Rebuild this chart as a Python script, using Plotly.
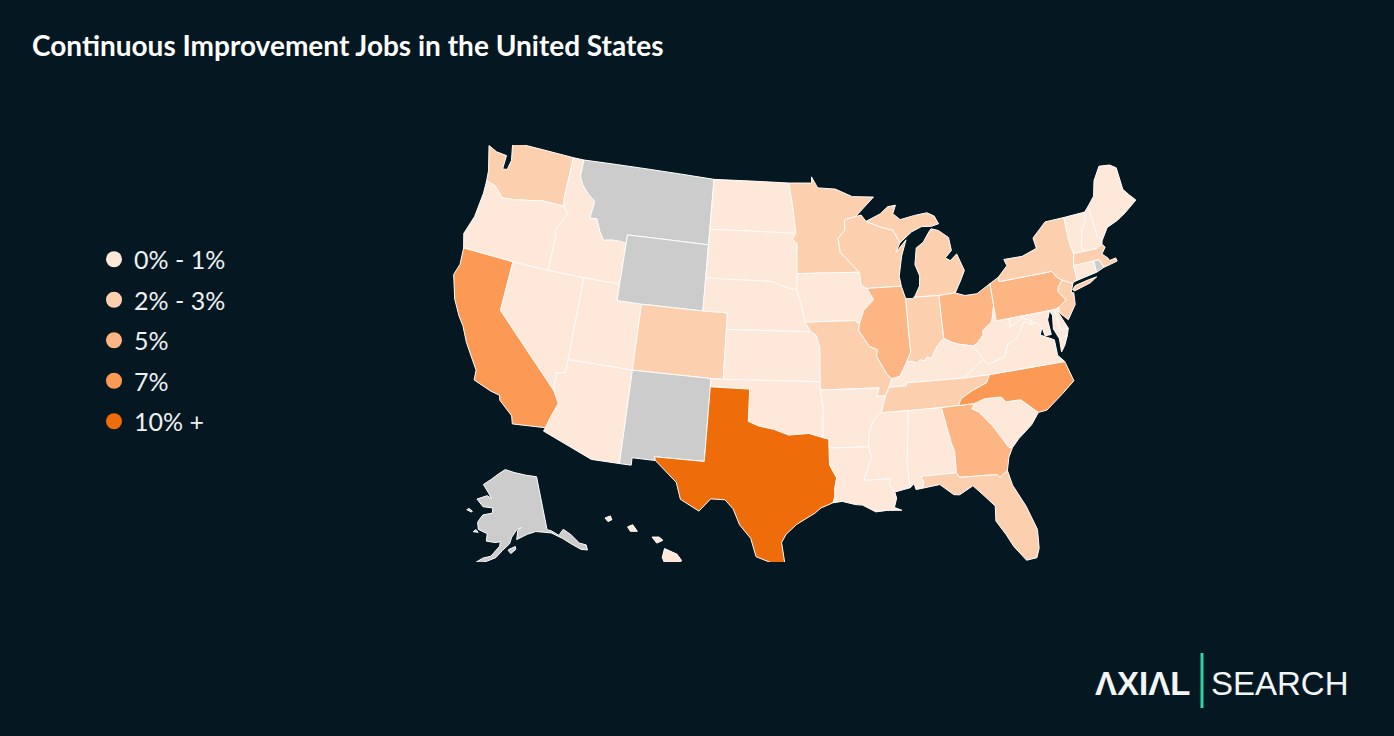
import plotly.graph_objects as go

# legend bins and colours
BINS = ["0% - 1%", "2% - 3%", "5%", "7%", "10% +"]
BIN_COLORS = ["#fee8d9", "#fcd0ae", "#fdb584", "#fc9a55", "#ee6c0a"]
NO_DATA = "#cccccc"
BG = "#051821"

# share bin per state, None = no data (grey)
STATE_CODES = ["WA","OR","CA","ID","NV","UT","AZ","MT","WY","CO","NM","ND","SD","NE","KS","OK","TX",
               "MN","IA","MO","AR","LA","WI","IL","MI","IN","OH","KY","TN","MS","AL","GA","FL","SC",
               "NC","VA","WV","PA","NY","NJ","DE","MD","CT","RI","MA","VT","NH","ME","AK","HI"]
STATE_BINS = [1,0,3,0,0,0,0,None,None,1,None,0,0,0,0,0,4,
              1,0,1,0,0,1,2,1,1,2,0,1,0,0,2,1,0,
              3,0,0,2,1,1,0,0,0,None,1,0,0,0,None,0]

# state outlines, lon/lat, a None starts another piece
WA = [(-124.72,48.38),(-123.9,48.15),(-122.95,48.1),(-122.95,47.25),(-122.55,47.3),(-122.4,47.9),(-122.75,49),(-117.03,49),(-117.04,46.42),(-116.92,45.99),(-118.98,46),(-119.3,45.93),(-121.2,45.65),(-122.3,45.55),(-122.8,45.9),(-123.2,46.15),(-124,46.27),(-124.1,46.9)]
OR = [(-124,46.27),(-123.2,46.15),(-122.8,45.9),(-122.3,45.55),(-121.2,45.65),(-119.3,45.93),(-118.98,46),(-116.92,45.99),(-116.46,45.6),(-116.85,44.95),(-117.2,44.44),(-117.03,44.2),(-117.03,42),(-120,42),(-124.21,42),(-124.55,42.84),(-124.1,44),(-123.95,45.5)]
CA = [(-124.21,42),(-120,42),(-120,39),(-114.63,35),(-114.13,34.3),(-114.5,33.4),(-114.72,32.72),(-117.12,32.53),(-117.3,33),(-118.4,33.75),(-118.5,34.03),(-119.2,34.15),(-120.6,34.55),(-120.65,35.15),(-121.9,36.6),(-122.5,37.5),(-123,38),(-123.7,38.9),(-124.35,40.3),(-124.1,41)]
ID = [(-117.03,49),(-116.05,49),(-116.05,48),(-115.7,47.5),(-115,47),(-114.35,46.65),(-114.5,45.6),(-113.9,45.65),(-113.45,44.95),(-113,44.45),(-112.3,44.55),(-111.5,44.55),(-111.05,44.47),(-111.05,42),(-114.04,42),(-117.03,42),(-117.03,44.2),(-117.2,44.44),(-116.85,44.95),(-116.46,45.6),(-116.92,45.99),(-117.04,46.42)]
NV = [(-120,42),(-117.03,42),(-114.04,42),(-114.04,37),(-114.04,36.2),(-114.74,36.1),(-114.63,35),(-120,39)]
UT = [(-114.04,42),(-111.05,42),(-111.05,41),(-109.05,41),(-109.05,37),(-114.04,37)]
AZ = [(-114.04,37),(-109.05,37),(-109.05,31.33),(-111.07,31.33),(-114.81,32.5),(-114.72,32.72),(-114.5,33.4),(-114.13,34.3),(-114.63,35),(-114.74,36.1),(-114.04,36.2)]
MT = [(-116.05,49),(-104.05,49),(-104.05,45.94),(-104.05,45),(-111.05,45),(-111.05,44.47),(-111.5,44.55),(-112.3,44.55),(-113,44.45),(-113.45,44.95),(-113.9,45.65),(-114.5,45.6),(-114.35,46.65),(-115,47),(-115.7,47.5),(-116.05,48)]
WY = [(-111.05,45),(-104.05,45),(-104.05,43),(-104.05,41),(-109.05,41),(-111.05,41),(-111.05,42),(-111.05,44.47)]
CO = [(-109.05,41),(-104.05,41),(-102.05,41),(-102.05,40),(-102.05,37),(-103,37),(-109.05,37)]
NM = [(-109.05,37),(-103,37),(-103,36.5),(-103.04,32),(-106.62,32),(-106.53,31.78),(-108.21,31.78),(-108.21,31.33),(-109.05,31.33)]
ND = [(-104.05,49),(-97.23,49),(-96.85,47.6),(-96.56,45.94),(-104.05,45.94)]
SD = [(-104.05,45.94),(-96.56,45.94),(-96.85,45.6),(-96.45,45.3),(-96.45,43.5),(-96.45,42.49),(-97.9,42.8),(-98.5,43),(-104.05,43),(-104.05,45)]
NE = [(-104.05,43),(-98.5,43),(-97.9,42.8),(-96.45,42.49),(-96.1,41.7),(-95.9,41),(-95.77,40.58),(-95.31,40),(-102.05,40),(-102.05,41),(-104.05,41)]
KS = [(-102.05,40),(-95.31,40),(-94.9,39.8),(-94.61,39.1),(-94.62,37),(-102.05,37)]
OK = [(-103,37),(-102.05,37),(-94.62,37),(-94.62,36.5),(-94.43,35.4),(-94.48,33.64),(-95.5,33.9),(-97,33.8),(-98.1,34.13),(-99.2,34.3),(-100,34.56),(-100,36.5),(-103,36.5)]
TX = [(-103,36.5),(-100,36.5),(-100,34.56),(-99.2,34.3),(-98.1,34.13),(-97,33.8),(-95.5,33.9),(-94.48,33.64),(-94.04,33.55),(-94.04,33),(-94.04,32),(-93.55,31.2),(-93.7,30.6),(-93.7,30.1),(-93.85,29.7),(-94.7,29.4),(-95.1,29.1),(-96.4,28.4),(-97.1,27.8),(-97.4,27.3),(-97.15,25.96),(-97.5,25.85),(-99.1,26.4),(-99.5,27.5),(-100.3,28.3),(-100.8,29.25),(-101.4,29.77),(-102.4,29.77),(-103.15,28.98),(-104.5,29.6),(-104.9,30.6),(-106.53,31.78),(-106.62,32),(-103.04,32)]
MN = [(-97.23,49),(-95.15,49),(-95.15,49.38),(-94.6,48.7),(-93,48.6),(-91.5,48.1),(-89.6,48),(-91.4,46.8),(-92.1,46.75),(-92.29,46.66),(-92.29,46.07),(-92.9,45.6),(-92.75,44.75),(-91.22,43.5),(-96.45,43.5),(-96.45,45.3),(-96.85,45.6),(-96.56,45.94),(-96.85,47.6)]
IA = [(-96.45,43.5),(-91.22,43.5),(-91.1,42.7),(-90.65,42.5),(-90.15,41.8),(-91,41.2),(-91.42,40.38),(-91.73,40.61),(-95.77,40.58),(-95.9,41),(-96.1,41.7),(-96.45,42.49)]
MO = [(-95.77,40.58),(-91.73,40.61),(-91.42,40.38),(-91.5,40),(-90.7,39),(-90.1,38.8),(-90.2,38.4),(-89.5,37.3),(-89.13,36.98),(-89.4,36.5),(-89.7,36),(-90.37,36),(-90.15,36.5),(-94.62,36.5),(-94.62,37),(-94.61,39.1),(-94.9,39.8),(-95.31,40)]
AR = [(-94.62,36.5),(-90.15,36.5),(-90.37,36),(-89.7,36),(-90.1,35),(-90.6,34.7),(-91.1,33.9),(-91.17,33),(-94.04,33),(-94.04,33.55),(-94.48,33.64),(-94.43,35.4)]
LA = [(-94.04,33),(-91.17,33),(-91,32.4),(-91.6,31),(-89.73,31),(-89.85,30.65),(-89.5,30.18),(-89.4,29.8),(-89.6,29.25),(-89.1,29.05),(-90.1,29.1),(-90.9,29.05),(-91.8,29.5),(-92.3,29.55),(-93.2,29.77),(-93.85,29.7),(-93.7,30.1),(-93.7,30.6),(-93.55,31.2),(-94.04,32)]
WI = [(-92.1,46.75),(-90.8,46.95),(-90.4,46.55),(-89.1,46.13),(-88.1,45.9),(-87.6,45.1),(-88,44.55),(-87.05,45.25),(-87.55,44.3),(-87.9,43.1),(-87.8,42.49),(-90.65,42.5),(-91.1,42.7),(-91.22,43.5),(-92.75,44.75),(-92.9,45.6),(-92.29,46.07),(-92.29,46.66)]
IL = [(-90.65,42.5),(-87.8,42.49),(-87.53,41.72),(-87.53,39.35),(-87.5,38.5),(-87.9,37.9),(-88.5,37.1),(-89.13,36.98),(-89.5,37.3),(-90.2,38.4),(-90.1,38.8),(-90.7,39),(-91.5,40),(-91.42,40.38),(-91,41.2),(-90.15,41.8)]
MI = [(-90.4,46.55),(-89.1,46.95),(-88.4,47.35),(-87.7,47.4),(-88,46.9),(-87.4,46.5),(-86.1,46.67),(-85,46.75),(-84.4,46.5),(-84.1,46),(-84.75,45.9),(-85.6,45.95),(-86.5,45.7),(-87.6,45.1),(-88.1,45.9),(-89.1,46.13),None,
      (-84.8,45.75),(-84.2,45.6),(-83.4,45.1),(-83.3,44.3),(-83.9,43.9),(-83.5,43.7),(-82.9,44.05),(-82.45,43),(-82.9,42.4),(-83.15,42.1),(-83.45,41.73),(-84.8,41.7),(-86.8,41.76),(-86.3,42.4),(-86.2,43),(-86.5,43.7),(-86.25,44.7),(-85.6,45),(-85,45.6)]
IN = [(-87.53,41.72),(-87,41.68),(-86.8,41.76),(-84.8,41.7),(-84.82,39.1),(-85.4,38.7),(-85.7,38.3),(-85.95,38),(-86.3,38.1),(-86.5,37.9),(-86.8,37.97),(-87.1,37.8),(-87.55,37.95),(-87.9,37.9),(-87.5,38.5),(-87.53,39.35)]
OH = [(-84.8,41.7),(-83.45,41.73),(-82.7,41.5),(-81.7,41.5),(-80.52,41.98),(-80.52,40.64),(-80.87,39.7),(-81.7,39.25),(-81.7,39),(-82.2,38.6),(-82.6,38.42),(-83.7,38.65),(-84.2,38.8),(-84.82,39.1)]
KY = [(-89.4,36.5),(-89.13,36.98),(-88.5,37.1),(-87.9,37.9),(-87.55,37.95),(-87.1,37.8),(-86.8,37.97),(-86.5,37.9),(-86.3,38.1),(-85.95,38),(-85.7,38.3),(-85.4,38.7),(-84.82,39.1),(-84.2,38.8),(-83.7,38.65),(-82.6,38.42),(-81.97,37.54),(-83.68,36.6),(-88.07,36.68),(-88.07,36.5)]
TN = [(-90.1,35),(-89.7,36),(-89.4,36.5),(-88.07,36.5),(-88.07,36.68),(-83.68,36.6),(-81.68,36.59),(-82,36.13),(-83.1,35.8),(-84.05,35.4),(-84.32,35),(-85.6,35),(-88.2,35)]
MS = [(-90.1,35),(-88.2,35),(-88.1,34.9),(-88.47,31.9),(-88.4,30.37),(-89.5,30.18),(-89.85,30.65),(-89.73,31),(-91.6,31),(-91,32.4),(-91.17,33),(-91.1,33.9),(-90.6,34.7)]
AL = [(-88.2,35),(-85.6,35),(-85.18,32.87),(-85,32.3),(-85.05,31),(-87.6,31),(-87.4,30.65),(-87.52,30.28),(-88,30.23),(-88.1,30.6),(-88.4,30.37),(-88.47,31.9),(-88.1,34.9)]
GA = [(-85.6,35),(-84.32,35),(-83.11,35),(-83.35,34.7),(-82.9,34.48),(-82,33.5),(-81.4,32.6),(-81.1,32.1),(-80.85,32.03),(-81.2,31.5),(-81.45,30.72),(-82.05,30.36),(-82.2,30.57),(-84.86,30.7),(-85.05,31),(-85,32.3),(-85.18,32.87)]
FL = [(-87.6,31),(-85.05,31),(-84.86,30.7),(-82.2,30.57),(-82.05,30.36),(-81.45,30.72),(-81.25,29.8),(-80.55,28.4),(-80.05,26.9),(-80.15,25.75),(-80.4,25.2),(-81.1,25.15),(-81.8,26.1),(-82.2,26.9),(-82.75,27.8),(-82.65,28.7),(-83.4,29.5),(-84,30.1),(-85,29.65),(-85.4,29.7),(-86.3,30.4),(-87.52,30.28),(-87.4,30.65)]
SC = [(-83.11,35),(-82.3,35.2),(-81.05,35.15),(-80.8,34.82),(-79.67,34.8),(-78.55,33.86),(-79.2,33.2),(-80.3,32.5),(-80.85,32.03),(-81.1,32.1),(-81.4,32.6),(-82,33.5),(-82.9,34.48),(-83.35,34.7)]
NC = [(-81.68,36.59),(-75.87,36.55),(-75.5,35.3),(-76.5,34.7),(-77.9,33.9),(-78.55,33.86),(-79.67,34.8),(-80.8,34.82),(-81.05,35.15),(-82.3,35.2),(-83.11,35),(-84.32,35),(-84.05,35.4),(-83.1,35.8),(-82,36.13)]
VA = [(-83.68,36.6),(-81.97,37.54),(-81.68,37.2),(-80.3,37.5),(-79.95,38.2),(-79.3,38.42),(-78.87,38.76),(-78.35,39.4),(-77.83,39.13),(-77.5,39.2),(-77.05,38.85),(-77.3,38.4),(-76.3,37.95),(-76.3,37),(-75.87,36.55),(-81.68,36.59),None,
      (-75.25,38.03),(-75.9,37.95),(-75.95,37.15),(-75.6,37.5)]
WV = [(-82.6,38.42),(-82.2,38.6),(-81.7,39),(-81.7,39.25),(-80.87,39.7),(-80.52,40.64),(-80.52,39.72),(-79.48,39.72),(-79.48,39.2),(-78.43,39.62),(-77.72,39.32),(-77.83,39.13),(-78.35,39.4),(-78.87,38.76),(-79.3,38.42),(-79.95,38.2),(-80.3,37.5),(-81.68,37.2),(-81.97,37.54)]
PA = [(-80.52,41.98),(-79.76,42.27),(-79.76,42),(-75.35,42),(-75.07,41.6),(-74.7,41.36),(-75.13,40.97),(-75.2,40.68),(-74.72,40.15),(-75.42,39.8),(-75.79,39.72),(-79.48,39.72),(-80.52,39.72),(-80.52,40.64)]
NY = [(-79.76,42.27),(-78.9,42.87),(-79.05,43.27),(-77.5,43.25),(-76.2,43.55),(-76.3,44.2),(-75,45),(-73.35,45),(-73.4,43.6),(-73.27,42.75),(-73.5,42.05),(-73.49,41.2),(-73.73,41.1),(-73.9,41),(-74.7,41.36),(-75.07,41.6),(-75.35,42),(-79.76,42),None,
      (-74.03,40.65),(-73.9,40.55),(-72.5,40.8),(-71.9,41.05),(-72.6,41),(-73.75,40.85)]
NJ = [(-74.7,41.36),(-73.9,41),(-74.2,40.5),(-74,40.45),(-74.1,39.75),(-74.9,38.95),(-75.5,39.5),(-75.42,39.8),(-74.72,40.15),(-75.2,40.68),(-75.13,40.97)]
DE = [(-75.79,39.72),(-75.42,39.8),(-75.55,39.5),(-75.05,38.45),(-75.7,38.46)]
MD = [(-79.48,39.72),(-76.2,39.72),(-76.5,39.2),(-76.45,38.3),(-76.95,38.3),(-77.05,38.85),(-77.5,39.2),(-77.83,39.13),(-77.72,39.32),(-78.43,39.62),(-79.48,39.2),None,
      (-76.2,39.72),(-75.79,39.72),(-75.7,38.46),(-75.05,38.45),(-75.25,38.03),(-75.9,37.95),(-76.2,38.6),(-76.05,39.4)]
CT = [(-73.5,42.05),(-71.8,42.02),(-71.8,41.32),(-73.73,41.1),(-73.49,41.2)]
RI = [(-71.8,42.02),(-71.38,42.02),(-71.12,41.5),(-71.8,41.32)]
MA = [(-73.27,42.75),(-72.45,42.73),(-71.3,42.7),(-70.8,42.87),(-70.6,42.65),(-71,42.3),(-70.6,41.95),(-70.55,41.8),(-70,41.85),(-69.95,41.65),(-70.65,41.55),(-71.12,41.5),(-71.38,42.02),(-71.8,42.02),(-73.5,42.05)]
VT = [(-73.35,45),(-71.5,45.01),(-71.6,44.5),(-72.05,44.1),(-72.45,43.2),(-72.45,42.73),(-73.27,42.75),(-73.4,43.6)]
NH = [(-71.5,45.01),(-71.08,45.3),(-70.98,43.4),(-70.7,43.07),(-70.8,42.87),(-71.3,42.7),(-72.45,42.73),(-72.45,43.2),(-72.05,44.1),(-71.6,44.5)]
ME = [(-71.08,45.3),(-70.4,45.8),(-70,46.7),(-69.23,47.46),(-68.3,47.35),(-67.8,47.07),(-67.8,45.7),(-67.45,45.3),(-67,44.85),(-68.2,44.3),(-69,44),(-70,43.75),(-70.7,43.07),(-70.98,43.4)]
AK = [(-141,69.65),(-141,60.3),(-139.5,59.9),(-137.5,58.9),(-135.5,59.7),(-133.5,58.4),(-131.8,56.6),(-130,55.9),(-130.2,55),(-132,55.5),(-134.5,57),(-136.5,58.2),(-139.8,59.6),(-142.5,60),(-145,60.3),(-148,60),(-149.5,59.7),(-151.8,59.2),(-151.3,60.8),(-150,61.2),(-151.5,61),(-153.5,59.6),(-154.2,58.5),(-156.5,57.3),(-158.5,56),(-161,55.3),(-163.5,54.7),(-164.8,54.6),(-162.5,55.7),(-160,56.2),(-157.5,58),(-157.3,58.8),(-159,58.6),(-162,58.7),(-162,60),(-165.3,60.5),(-166,61.7),(-165,62.7),(-164.5,63.1),(-161,63.6),(-161,64.5),(-165,64.5),(-168,65.6),(-164,66.5),(-162,66.1),(-163.8,67.1),(-166.5,68.3),(-163,69.5),(-160,70.5),(-156.6,71.35),(-152,70.85),(-146,70.2),None,
      (-154.5,57.5),(-152.3,58),(-152.2,57.5),(-153.8,56.8),(-154.6,57.3),None,
      (-166.1,60.4),(-165.2,60),(-166.9,59.95),None,
      (-171,63.4),(-169,63.2),(-168.8,63.4),(-170.3,63.7)]
HI = [(-155.9,20.25),(-155.1,19.9),(-154.8,19.5),(-155.7,18.95),(-156.05,19.7),None,
      (-156.7,20.95),(-156.25,20.95),(-156,20.75),(-156.4,20.58),None,
      (-158.28,21.57),(-157.95,21.7),(-157.65,21.3),(-158.1,21.3),None,
      (-159.75,22.1),(-159.4,22.23),(-159.3,22),(-159.55,21.88)]


def state_lonlat(points):
    # closes each piece and makes it clockwise, d3 fills the outside otherwise
    pieces, cur = [], []
    for p in points + [None]:
        if p is None:
            pieces.append(cur)
            cur = []
        else:
            cur.append(p)
    lons, lats = [], []
    for ring in pieces:
        area = sum(a[0] * b[1] - b[0] * a[1] for a, b in zip(ring, ring[1:] + ring[:1]))
        if area > 0:
            ring = ring[::-1]
        ring = ring + ring[:1]
        lons += [p[0] for p in ring] + [None]
        lats += [p[1] for p in ring] + [None]
    return lons[:-1], lats[:-1]


fig = go.Figure()
for code, b in zip(STATE_CODES, STATE_BINS):
    lons, lats = state_lonlat(globals()[code])
    fig.add_trace(go.Scattergeo(
        lon=lons, lat=lats, mode="lines", fill="toself",
        fillcolor=NO_DATA if b is None else BIN_COLORS[b],
        line=dict(color="white", width=1),
        name=code, showlegend=False, hoverinfo="name",
    ))

# legend only entries
for label, color in zip(BINS, BIN_COLORS):
    fig.add_trace(go.Scattergeo(
        lon=[None], lat=[None], mode="markers", name=label, legendgroup=label,
        marker=dict(color=color, size=16),
    ))

fig.add_shape(type="line", xref="paper", yref="paper", x0=1202/1394, x1=1202/1394, y0=1-708/736, y1=1-653/736,
              line=dict(color="#2bd4a0", width=3))
fig.add_annotation(text="<b>ΛXIΛL</b>", xref="paper", yref="paper", x=1093/1394, y=1-683/736, xanchor="left", yanchor="middle",
                   showarrow=False, font=dict(family="Liberation Sans", size=33, color="#f2f5f6"))
fig.add_annotation(text="SEARCH", xref="paper", yref="paper", x=1209/1394, y=1-683/736, xanchor="left", yanchor="middle",
                   showarrow=False, font=dict(family="Liberation Sans", size=33, color="#f2f5f6"))

fig.update_layout(
    width=1394, height=736,
    paper_bgcolor=BG, plot_bgcolor=BG,
    margin=dict(l=0, r=0, t=0, b=0),
    title=dict(text="<b>Continuous Improvement Jobs in the United States</b>", x=32/1394, xanchor="left",
               y=1-46/736, yanchor="middle", font=dict(family="Lato", size=28, color="white")),
    legend=dict(x=94/1394, y=1-236.5/736, xanchor="left", yanchor="top", bgcolor="rgba(0,0,0,0)",
                font=dict(family="Lato", size=25, color="#eef1f2"), tracegroupgap=5, itemclick=False),
    geo=dict(
        scope="usa", projection=dict(type="albers usa", scale=1.0795), bgcolor="rgba(0,0,0,0)",
        domain=dict(x=[0.284, 0.856], y=[1-569/736, 1-138/736]),
        showland=False, showlakes=False, showcoastlines=False, showsubunits=False,
        showcountries=False, showocean=False, showrivers=False, showframe=False,
    ),
)
fig.write_html("out.html", config={"displayModeBar": False},
               post_script="document.body.style.margin='0';document.body.style.background='%s';" % BG)
